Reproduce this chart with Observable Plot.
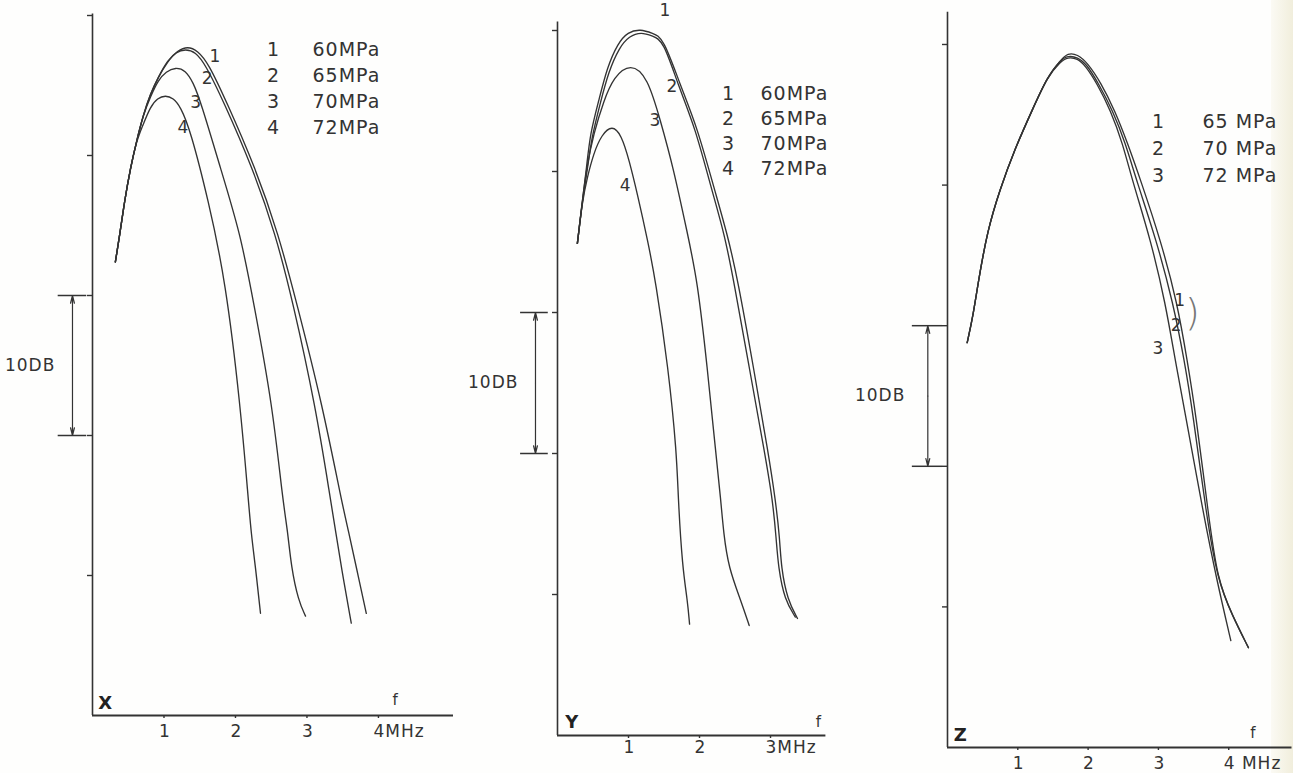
<!DOCTYPE html>
<html>
<head>
<meta charset="utf-8">
<script src="https://cdn.jsdelivr.net/npm/d3@7"></script>
<script src="https://cdn.jsdelivr.net/npm/@observablehq/plot@0.6"></script>
<style>
html, body { margin: 0; padding: 0; background: #fff; }
#wrap { position: relative; width: 1293px; height: 773px; overflow: hidden; background: #fefefd; }
.panel { position: absolute; top: 0; }
#wrap svg text { letter-spacing: 1px; }
#edge { position: absolute; top: 0; right: 0; width: 22px; height: 773px; background: linear-gradient(to right, #fbfaf4, #f1eedc); }
</style>
</head>
<body>
<div id="wrap"><div id="edge"></div></div>
<script>
// ---------- DATA (frequency in MHz, level in dB) ----------
// Panel X
const xLegendNums = ["1", "2", "3", "4"];
const xLegendText = ["60MPa", "65MPa", "70MPa", "72MPa"];
const xCurve1 = [[0.32,32.4],[0.38,34.3],[0.45,36.8],[0.53,39.1],[0.62,41.1],[0.71,42.9],[0.81,44.4],[0.92,45.6],[1.05,46.8],[1.19,47.5],[1.33,47.8],[1.47,47.5],[1.62,46.6],[1.87,43.9],[2.28,39.1],[2.60,34.4],[2.85,29.6],[3.22,22.1],[3.48,15.4],[3.58,13.2],[3.69,10.6],[3.83,7.3]];
const xCurve2 = [[0.32,32.4],[0.38,34.3],[0.45,36.8],[0.53,39.1],[0.62,41.1],[0.71,42.9],[0.81,44.4],[0.92,45.6],[1.05,46.7],[1.17,47.4],[1.30,47.6],[1.44,47.4],[1.58,46.5],[1.83,43.9],[2.24,39.1],[2.56,34.4],[2.80,29.6],[3.12,22.1],[3.33,15.4],[3.40,13.2],[3.48,10.6],[3.62,6.6]];
const xCurve3 = [[0.32,32.4],[0.38,34.3],[0.45,36.8],[0.53,39.1],[0.62,41.1],[0.71,42.9],[0.81,44.2],[0.92,45.4],[1.03,46.0],[1.16,46.3],[1.30,46.1],[1.41,45.2],[1.51,43.9],[1.79,39.1],[2.07,34.4],[2.25,29.6],[2.52,22.1],[2.66,15.4],[2.73,13.2],[2.78,10.6],[2.88,8.2],[2.98,7.1]];
const xCurve4 = [[0.32,32.4],[0.38,34.3],[0.45,36.8],[0.53,39.1],[0.62,41.1],[0.70,42.1],[0.81,43.5],[0.91,44.1],[1.02,44.3],[1.13,44.1],[1.23,43.5],[1.37,41.8],[1.62,36.8],[1.86,31.1],[2.07,22.1],[2.18,15.4],[2.22,13.0],[2.28,10.6],[2.35,7.3]];
const xCurveLabels = [{f:1.72,db:47.1,t:"1"},{f:1.61,db:45.5,t:"2"},{f:1.45,db:43.8,t:"3"},{f:1.27,db:42.0,t:"4"}];

// Panel Y
const yLegendNums = ["1", "2", "3", "4"];
const yLegendText = ["60MPa", "65MPa", "70MPa", "72MPa"];
const yCurve1 = [[0.28,34.9],[0.35,37.9],[0.41,40.3],[0.46,42.7],[0.58,45.0],[0.70,47.4],[0.85,49.1],[0.99,49.9],[1.17,50.1],[1.34,49.8],[1.49,49.5],[1.73,46.1],[1.97,43.1],[2.20,38.9],[2.39,35.6],[2.54,32.3],[2.76,26.1],[2.97,20.0],[3.07,16.7],[3.13,14.0],[3.15,11.9],[3.24,9.6],[3.38,8.3]];
const yCurve2 = [[0.28,34.9],[0.35,37.9],[0.42,40.1],[0.48,42.4],[0.60,44.8],[0.72,47.1],[0.87,48.8],[1.01,49.6],[1.18,49.9],[1.34,49.6],[1.49,49.3],[1.70,46.1],[1.94,43.1],[2.16,38.9],[2.35,35.6],[2.48,32.3],[2.70,26.1],[2.92,20.0],[3.03,16.7],[3.08,14.0],[3.11,11.9],[3.20,9.6],[3.35,8.4]];
const yCurve3 = [[0.28,34.9],[0.35,37.9],[0.41,40.3],[0.51,42.7],[0.65,45.0],[0.79,46.7],[1.03,47.7],[1.27,46.7],[1.45,43.6],[1.63,40.3],[1.83,35.6],[1.97,32.3],[2.11,26.1],[2.23,20.0],[2.30,16.7],[2.34,14.3],[2.41,11.9],[2.58,9.6],[2.70,7.8]];
const yCurve4 = [[0.28,34.9],[0.35,37.9],[0.42,39.6],[0.51,41.3],[0.62,42.6],[0.77,43.3],[0.90,42.6],[1.01,40.8],[1.13,38.3],[1.27,35.1],[1.38,32.3],[1.56,26.1],[1.68,20.0],[1.70,16.7],[1.76,11.9],[1.83,9.6],[1.86,7.9]];
const yCurveLabels = [{f:1.52,db:51.4,t:"1"},{f:1.62,db:46.0,t:"2"},{f:1.38,db:43.6,t:"3"},{f:0.96,db:39.0,t:"4"}];

// Panel Z
const zLegendNums = ["1", "2", "3"];
const zLegendText = ["65 MPa", "70 MPa", "72 MPa"];
const zCurve1 = [[0.28,28.8],[0.36,30.6],[0.44,33.2],[0.57,36.8],[0.74,39.6],[0.95,42.5],[1.22,45.5],[1.42,47.7],[1.61,48.9],[1.71,49.4],[1.85,49.3],[1.99,48.7],[2.18,47.3],[2.38,45.3],[2.56,43.0],[2.75,40.3],[3.03,36.1],[3.27,31.6],[3.41,27.5],[3.53,23.8],[3.71,16.6],[3.84,11.9],[4.05,9.4],[4.28,7.1]];
const zCurve2 = [[0.28,28.8],[0.36,30.6],[0.44,33.2],[0.57,36.8],[0.74,39.6],[0.95,42.5],[1.22,45.5],[1.42,47.7],[1.61,48.9],[1.71,49.2],[1.85,49.1],[1.98,48.6],[2.15,47.2],[2.35,45.3],[2.53,43.0],[2.69,40.3],[2.97,36.1],[3.21,31.6],[3.37,27.5],[3.49,23.8],[3.68,16.6],[3.84,11.9],[4.05,9.4],[4.28,7.1]];
const zCurve3 = [[0.28,28.8],[0.36,30.6],[0.44,33.2],[0.57,36.8],[0.74,39.6],[0.95,42.5],[1.22,45.5],[1.42,47.7],[1.61,48.8],[1.71,49.1],[1.85,49.0],[1.96,48.5],[2.13,47.2],[2.32,45.3],[2.49,43.0],[2.63,40.3],[2.89,36.1],[3.10,31.6],[3.24,27.5],[3.38,23.8],[3.64,16.6],[3.83,11.9],[4.03,7.6]];
const zCurveLabels = [{f:3.31,db:31.8,t:"1"},{f:3.26,db:30.0,t:"2"},{f:3.00,db:28.4,t:"3"}];

// Axes
const yTickValues = [10, 20, 30, 40, 50];
const xTicksX = [1, 2, 3, 4];
const xTickLabelsX = ["1", "2", "3", "4MHz"];
const xTicksY = [1, 2, 3];
const xTickLabelsY = ["1", "2", "3MHz"];
const xTicksZ = [1, 2, 3, 4];
const xTickLabelsZ = ["1", "2", "3", "4 MHz"];
const scaleBar = ["10DB"];   // 10 dB bracket from 20 to 30 dB
const scaleBarRange = [20, 30];

// ---------- DRAWING ----------
const ink = "#333";
const font = "DejaVu Sans, Liberation Sans, sans-serif";

function panel(cfg) {
  const bar = [{y1: 25, y2: scaleBarRange[1]}, {y1: 25, y2: scaleBarRange[0]}];
  const marks = [
    Plot.ruleX([0], {y1: 0, y2: cfg.axisTop, stroke: ink, strokeWidth: 1.6}),
    Plot.ruleY([0], {x1: 0, x2: cfg.xEnd, stroke: ink, strokeWidth: 2.2}),
    Plot.axisY({ticks: yTickValues, tickSize: 5, tickFormat: () => "", label: null, stroke: ink, strokeWidth: 1.4}),
    Plot.axisX({ticks: cfg.xTicks, tickSize: 3, tickFormat: () => "", label: null, stroke: ink, strokeWidth: 1.4}),
    Plot.text(cfg.xTicks, {x: d => d, text: (d, i) => cfg.xTickLabels[i], frameAnchor: "bottom", dy: cfg.tickDy, dx: -5, textAnchor: "start", fontSize: 17, fill: ink}),
    // curves
    ...cfg.curves.map(c => Plot.line(c, {x: d => d[0], y: d => d[1], curve: "basis", stroke: ink, strokeWidth: 1.35})),
    Plot.text(cfg.curveLabels, {x: "f", y: "db", text: "t", fontSize: 17, fill: ink}),
    // 10 dB bracket
    Plot.ruleY(scaleBarRange, {x1: cfg.bar[0], x2: cfg.bar[1], stroke: ink, strokeWidth: 1.5}),
    Plot.arrow(bar, {x1: cfg.bar[2], x2: cfg.bar[2], y1: "y1", y2: "y2", stroke: ink, strokeWidth: 1.2, headLength: 10, headAngle: 28}),
    Plot.text(scaleBar, {x: cfg.barText, y: 25, textAnchor: "end", fontSize: 17, fill: ink}),
    // panel letter, f
    Plot.text([cfg.letter], {x: cfg.letterX, y: 0, dy: cfg.letterDy, textAnchor: "start", fontSize: 18, fontWeight: "bold", fill: "#222"}),
    Plot.text(["f"], {x: cfg.fX, y: 0, dy: cfg.fDy, fontSize: 15, fill: ink}),
    // legend
    Plot.text([cfg.legendNums.join("\n")], {frameAnchor: "top-left", dx: cfg.legNumDx, dy: cfg.legDy, lineAnchor: "top", lineHeight: cfg.legLH, textAnchor: "middle", fontSize: 19, fill: ink}),
    Plot.text([cfg.legendText.join("\n")], {frameAnchor: "top-left", dx: cfg.legTextDx, dy: cfg.legDy, lineAnchor: "top", lineHeight: cfg.legLH, textAnchor: "start", fontSize: 19, fill: ink})
  ];
  if (cfg.extra) marks.push(...cfg.extra);
  const svg = Plot.plot({
    width: cfg.width, height: 773,
    marginLeft: cfg.ml, marginRight: cfg.mr, marginTop: cfg.mt, marginBottom: cfg.mb,
    x: {domain: [0, cfg.xEnd], axis: null, label: null},
    y: {domain: [0, cfg.yMax], axis: null, label: null},
    style: {background: "transparent", fontFamily: font, color: ink, overflow: "visible"},
    marks
  });
  svg.classList.add("panel");
  svg.style.left = cfg.left + "px";
  document.getElementById("wrap").appendChild(svg);
}

panel({
  left: 0, width: 470, ml: 92, mr: 17, mt: 1, mb: 58, xEnd: 5.05, yMax: 51, axisTop: 50.1,
  xTicks: xTicksX, xTickLabels: xTickLabelsX, tickDy: 21,
  curves: [xCurve1, xCurve2, xCurve3, xCurve4], curveLabels: xCurveLabels,
  bar: [-0.48, -0.08, -0.28], barText: -0.52,
  letter: "X", letterX: 0.08, letterDy: -12, fX: 4.24, fDy: -15,
  legendNums: xLegendNums, legendText: xLegendText, legNumDx: 181, legTextDx: 220, legDy: 36, legLH: 1.37
});

panel({
  left: 470, width: 380, ml: 87, mr: 24.6, mt: 1.8, mb: 38, xEnd: 3.78, yMax: 52, axisTop: 50.6,
  xTicks: xTicksY, xTickLabels: xTickLabelsY, tickDy: 17,
  curves: [yCurve1, yCurve2, yCurve3, yCurve4], curveLabels: yCurveLabels,
  bar: [-0.52, -0.13, -0.31], barText: -0.55,
  letter: "Y", letterX: 0.11, letterDy: -13, fX: 3.68, fDy: -13,
  legendNums: yLegendNums, legendText: yLegendText, legNumDx: 171, legTextDx: 203, legDy: 80, legLH: 1.32
});

panel({
  left: 860, width: 433, ml: 87, mr: 1.5, mt: 1.8, mb: 26, xEnd: 4.9, yMax: 53, axisTop: 52.3,
  xTicks: xTicksZ, xTickLabels: xTickLabelsZ, tickDy: 21,
  curves: [zCurve1, zCurve2, zCurve3], curveLabels: zCurveLabels,
  bar: [-0.50, -0.07, -0.28], barText: -0.60,
  letter: "Z", letterX: 0.09, letterDy: -12, fX: 4.35, fDy: -14,
  legendNums: zLegendNums, legendText: zLegendText, legNumDx: 211, legTextDx: 255, legDy: 107, legLH: 1.42,
  extra: [Plot.text([")"], {x: 3.49, y: 30.9, fontSize: 38, fontWeight: 200, fill: "#777"})]
});
</script>
</body>
</html>
